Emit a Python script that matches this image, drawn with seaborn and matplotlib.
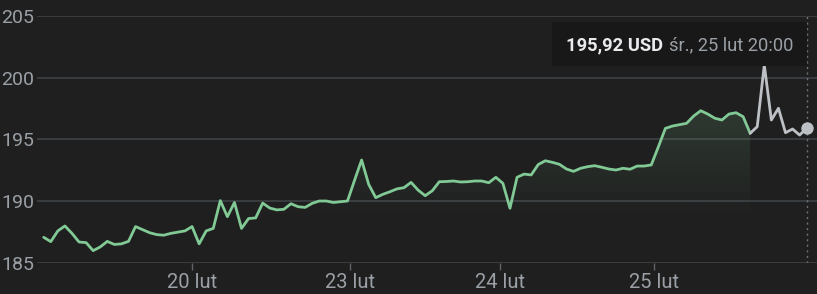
import numpy as np
import pandas as pd
import matplotlib
matplotlib.use("Agg")
import matplotlib.pyplot as plt
from matplotlib.patches import Polygon, Rectangle
import seaborn as sns

# ---- data ----
prices = [
    187.08, 186.73, 187.60, 188.00, 187.40, 186.70, 186.65, 186.00, 186.30, 186.75,
    186.50, 186.55, 186.75, 187.95, 187.70, 187.45, 187.30, 187.25, 187.40, 187.50,
    187.60, 187.95, 186.55, 187.60, 187.80, 190.05, 188.75, 189.90, 187.80, 188.60,
    188.65, 189.85, 189.45, 189.30, 189.35, 189.80, 189.56, 189.50, 189.83, 190.02,
    190.02, 189.90, 189.96, 190.02, 191.70, 193.34, 191.37, 190.29, 190.56, 190.77,
    191.00, 191.10, 191.53, 190.90, 190.45, 190.85, 191.58, 191.60, 191.64, 191.56,
    191.58, 191.64, 191.64, 191.50, 191.94, 191.45, 189.43, 191.94, 192.20, 192.13,
    192.97, 193.28, 193.15, 192.99, 192.61, 192.42, 192.67, 192.80, 192.88, 192.75,
    192.61, 192.53, 192.67, 192.59, 192.85, 192.85, 192.94, 194.40, 195.90, 196.09,
    196.20, 196.31, 196.90, 197.33, 197.06, 196.72, 196.58, 197.06, 197.17, 196.85,
    195.50, 196.04, 201.03, 196.58, 197.53, 195.55, 195.85, 195.36, 195.92,
]
regular_end = 100            # index where regular session ends (green -> gray)
tick_pos = [21.0, 43.35, 64.57, 86.45]
tick_labels = ["20 lut", "23 lut", "24 lut", "25 lut"]
y_ticks = [185, 190, 195, 200, 205]
tooltip_price = "195,92 USD"
tooltip_date = "śr., 25 lut 20:00"

BG = "#1f1f1f"
GRID = "#3c4043"
GREEN = "#81c995"
GRAY = "#bdc1c6"
LABEL = "#9aa0a6"

sns.set_theme(style="dark", rc={
    "axes.facecolor": BG, "figure.facecolor": BG,
})
plt.rcParams["font.family"] = ["Roboto", "DejaVu Sans"]

df = pd.DataFrame({"i": np.arange(len(prices)), "price": prices})
reg = df[df["i"] <= regular_end]
post = df[df["i"] >= regular_end]

fig = plt.figure(figsize=(8.17, 2.94), dpi=100)
ax = fig.add_axes([37 / 817, 31 / 294, 1 - 37 / 817, (263 - 16) / 294])
ax.set_facecolor(BG)

# gradient fill under the regular-session line
x0, x1 = reg["i"].iloc[0], reg["i"].iloc[-1]
verts = list(zip(reg["i"], reg["price"])) + [(x1, 185), (x0, 185)]
poly = Polygon(verts, closed=True, facecolor="none", edgecolor="none")
ax.add_patch(poly)
yy = np.linspace(185, 205, 200)
alpha = np.clip((yy - 188.5) / (197.5 - 188.5), 0, 1) * 0.16
rgba = np.zeros((200, 2, 4))
rgba[..., 0] = 0x81 / 255
rgba[..., 1] = 0xc9 / 255
rgba[..., 2] = 0x95 / 255
rgba[..., 3] = alpha[:, None]
img = ax.imshow(rgba, extent=[x0, x1, 185, 205], origin="lower",
                aspect="auto", zorder=1, interpolation="bilinear")
img.set_clip_path(poly)
ax.set_xlim(-0.95, 109.46)
ax.set_ylim(185, 205)

sns.lineplot(data=reg, x="i", y="price", ax=ax, color=GREEN, lw=2.0, zorder=3)
sns.lineplot(data=post, x="i", y="price", ax=ax, color=GRAY, lw=2.0, zorder=3)

last = df.iloc[-1]
ax.axvline(last["i"], color="#6f7377", lw=1.0, ls=(0, (1.5, 2.5)), zorder=2)
ax.scatter([last["i"]], [last["price"]], s=80, color=GRAY, zorder=4, linewidths=0)

ax.set_yticks(y_ticks)
ax.set_xticks(tick_pos)
ax.set_xticklabels(tick_labels)
ax.set_xlabel("")
ax.set_ylabel("")
ax.grid(axis="y", color=GRID, lw=1.3)
ax.grid(axis="x", visible=False)
for s in ax.spines.values():
    s.set_visible(False)
ax.tick_params(axis="y", length=0, pad=2, labelsize=14, labelcolor=LABEL)
ax.tick_params(axis="x", length=5, width=1, color="#5f6368", pad=2,
               labelsize=14.5, labelcolor=LABEL, bottom=True)

# tooltip
fig.patches.append(Rectangle((552 / 817, 1 - 66 / 294), (807 - 552) / 817, 44 / 294,
                             transform=fig.transFigure, facecolor="#181818",
                             edgecolor="none", zorder=5))
fig.text(566 / 817, 1 - 45 / 294, tooltip_price, color="#e8eaed", fontsize=13.2,
         fontweight="bold", va="center", ha="left", zorder=6)
fig.text(669 / 817, 1 - 45 / 294, tooltip_date, color=LABEL, fontsize=13.2,
         va="center", ha="left", zorder=6)

fig.savefig("out.png", dpi=100, facecolor=BG)
